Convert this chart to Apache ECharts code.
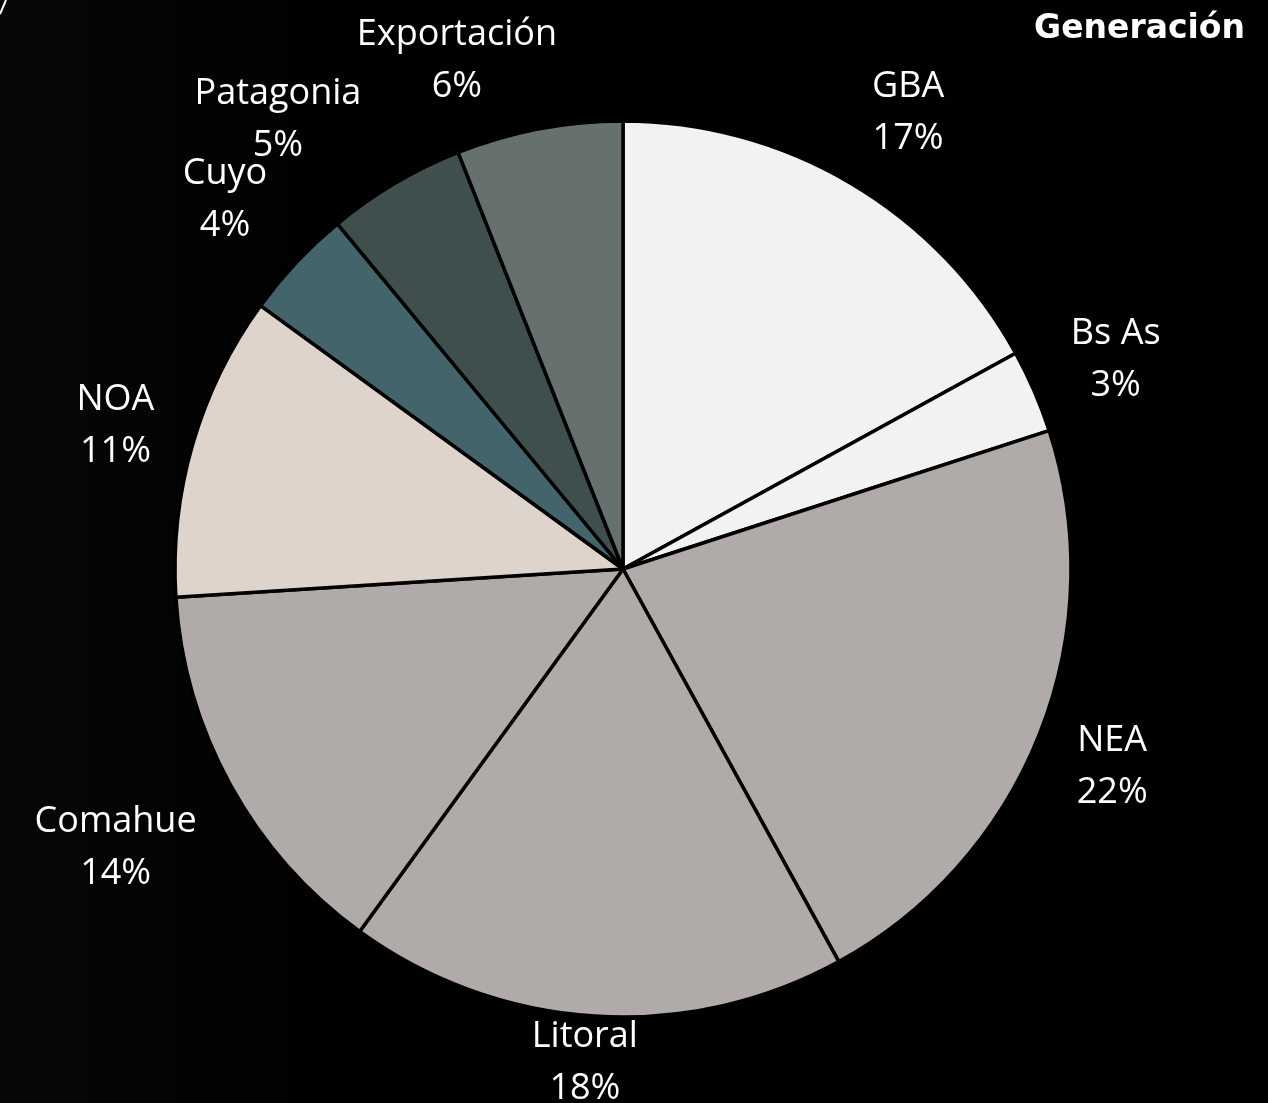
<!DOCTYPE html>
<html>
<head>
<meta charset="utf-8">
<title>Generación</title>
<script src="https://cdn.jsdelivr.net/npm/echarts@6/dist/echarts.min.js"></script>
<style>
  html, body { margin: 0; padding: 0; background: #000; }
  #chart { width: 1268px; height: 1103px; }
</style>
</head>
<body>
<div id="chart"></div>
<script>
// Regional shares of generation (%), clockwise from 12 o'clock
const categories = ['GBA', 'Bs As', 'NEA', 'Litoral', 'Comahue', 'NOA', 'Cuyo', 'Patagonia', 'Exportación'];
const shares = [17, 3, 22, 18, 14, 11, 4, 5, 6];

const sliceColors = ['#f2f2f2', '#f2f2f2', '#b0aba8', '#b0aba8', '#b0aba8', '#dfd4cc', '#44646b', '#3f4f4d', '#66716f'];

// Pie geometry (pixels)
const CX = 623, CY = 569, R = 448;
// Gap between the rim and the nearest edge of each label block
const LABEL_GAP = 40;
// Baseline correction so the cap height sits centred on the anchor
const LABEL_DY = 4;
// Hand nudges for labels shifted to keep clear of neighbours / the frame
const labelNudge = {
  0: [13, 0],      // GBA
  3: [-5, -37],    // Litoral pulled up inside the frame
  4: [-7, 0],      // Comahue
  7: [-73, 7],     // Patagonia shifted left
  8: [-67, 7]      // Exportación shifted left
};

const total = shares.reduce((a, b) => a + b, 0);
const midAngles = [];
let acc = 0;
shares.forEach(v => {
  midAngles.push((acc + v / 2) / total * Math.PI * 2);
  acc += v;
});

const chart = echarts.init(document.getElementById('chart'), null, { renderer: 'canvas' });

const labelFont = '"Open Sans", "Noto Sans", sans-serif';

chart.setOption({
  backgroundColor: {
    type: 'linear', x: 0, y: 0, x2: 1, y2: 0,
    colorStops: [
      { offset: 0, color: '#070707' },
      { offset: 0.15, color: '#030303' },
      { offset: 0.3, color: '#000000' },
      { offset: 1, color: '#000000' }
    ]
  },
  animation: false,
  title: {
    text: 'Generación',
    right: 18,
    top: 8,
    textStyle: {
      color: '#ffffff',
      fontFamily: '"DejaVu Sans", sans-serif',
      fontWeight: 'bold',
      fontSize: 33
    }
  },
  graphic: [{
    type: 'line',
    shape: { x1: 0, y1: 14, x2: 6, y2: 0 },
    style: { stroke: '#ffffff', lineWidth: 2 }
  }],
  series: [{
    type: 'pie',
    center: [CX, CY],
    radius: [0, R],
    startAngle: 90,
    clockwise: true,
    avoidLabelOverlap: false,
    data: categories.map((name, i) => ({
      name: name,
      value: shares[i],
      itemStyle: { color: sliceColors[i] }
    })),
    itemStyle: {
      borderColor: '#000000',
      borderWidth: 3.5
    },
    emphasis: { disabled: true },
    label: {
      show: true,
      position: 'outside',
      formatter: p => p.name + '\n' + p.value + '%',
      color: '#ffffff',
      fontFamily: labelFont,
      fontSize: 36,
      lineHeight: 52,
      align: 'center'
    },
    labelLine: { show: false },
    labelLayout: function (params) {
      const i = params.dataIndex;
      const a = midAngles[i];
      const s = Math.sin(a), c = Math.cos(a);
      const hw = params.labelRect.width / 2;
      const hh = 40;
      const reach = Math.min(
        Math.abs(s) > 1e-6 ? hw / Math.abs(s) : Infinity,
        Math.abs(c) > 1e-6 ? hh / Math.abs(c) : Infinity
      );
      const d = R + LABEL_GAP + reach;
      const n = labelNudge[i] || [0, 0];
      return {
        x: CX + d * s + n[0],
        y: CY - d * c + n[1] + LABEL_DY,
        align: 'center',
        verticalAlign: 'middle'
      };
    }
  }]
});
</script>
</body>
</html>
